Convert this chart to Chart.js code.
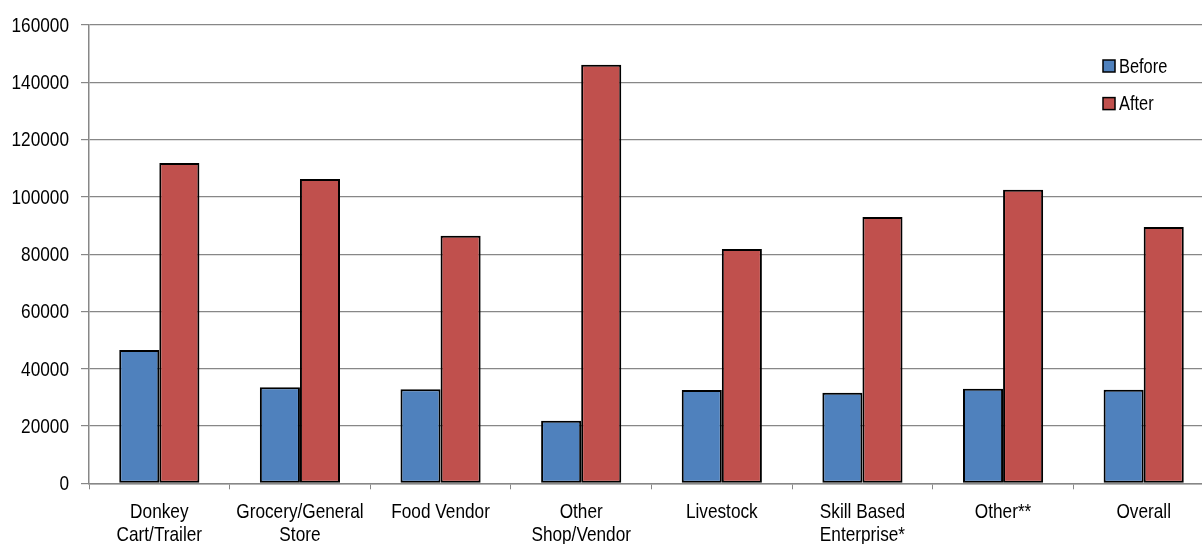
<!DOCTYPE html>
<html>
<head>
<meta charset="utf-8">
<script src="https://cdn.jsdelivr.net/npm/chart.js@4/dist/chart.umd.min.js"></script>
<style>
  html, body { margin: 0; padding: 0; background: #fff; overflow: hidden; }
  #wrap { position: relative; width: 1216px; height: 544px; }
</style>
</head>
<body>
<div id="wrap"><canvas id="c" width="1216" height="544"></canvas></div>
<script>
const categories = [
  ['Donkey', 'Cart/Trailer'],
  ['Grocery/General', 'Store'],
  'Food Vendor',
  ['Other', 'Shop/Vendor'],
  'Livestock',
  ['Skill Based', 'Enterprise*'],
  'Other**',
  'Overall'
];
const seriesNames = ['Before', 'After'];
const beforeValues = [46500, 33500, 32800, 21800, 32600, 31600, 33000, 32700];
const afterValues = [111800, 106200, 86400, 146100, 81800, 93000, 102500, 89500];
const yTicks = [0, 20000, 40000, 60000, 80000, 100000, 120000, 140000, 160000];

const FONT = "'Liberation Sans', Arial, sans-serif";
const NARROW = 0.82;
const GRID = '#878787';

function narrowText(ctx, text, x, y, align) {
  ctx.save();
  ctx.scale(NARROW, 1);
  ctx.textAlign = align;
  ctx.fillText(text, x / NARROW, y);
  ctx.restore();
}

const labelPlugin = {
  id: 'narrowLabels',
  afterDraw(chart) {
    const ctx = chart.ctx;
    const xs = chart.scales.x, ys = chart.scales.y;
    ctx.save();
    ctx.fillStyle = '#000';
    ctx.textBaseline = 'middle';
    ctx.font = '21px ' + FONT;
    ys.ticks.forEach(t => {
      narrowText(ctx, String(t.value), ys.right - 20, ys.getPixelForValue(t.value) + 1, 'right');
    });
    chart.data.labels.forEach((lab, i) => {
      const lines = Array.isArray(lab) ? lab : [lab];
      const cx = xs.getPixelForTick(i);
      lines.forEach((ln, j) => {
        narrowText(ctx, ln, cx, xs.top + 29 + j * 23.3, 'center');
      });
    });
    // legend
    const x = 1103, y0 = 66, gap = 37.6, box = 12;
    chart.data.datasets.forEach((ds, i) => {
      const cy = y0 + i * gap;
      ctx.fillStyle = ds.backgroundColor;
      ctx.fillRect(x, cy - box / 2, box, box);
      ctx.lineWidth = 1.5;
      ctx.strokeStyle = '#000';
      ctx.strokeRect(x, cy - box / 2, box, box);
      ctx.fillStyle = '#000';
      ctx.font = '20px ' + FONT;
      narrowText(ctx, ds.label, x + box + 4, cy + 1, 'left');
    });
    ctx.restore();
  }
};

new Chart(document.getElementById('c'), {
  type: 'bar',
  data: {
    labels: categories,
    datasets: [
      { label: seriesNames[0], data: beforeValues, backgroundColor: '#4F81BD', borderColor: '#000', borderWidth: 2, borderSkipped: false },
      { label: seriesNames[1], data: afterValues, backgroundColor: '#C0504D', borderColor: '#000', borderWidth: 2, borderSkipped: false }
    ]
  },
  options: {
    responsive: false,
    animation: false,
    devicePixelRatio: 1,
    layout: { padding: { top: 25, right: 2, left: 0, bottom: 0 } },
    datasets: { bar: { categoryPercentage: 0.57, barPercentage: 1.0 } },
    plugins: { legend: { display: false }, tooltip: { enabled: false } },
    scales: {
      x: {
        grid: { display: true, drawOnChartArea: false, drawTicks: true, tickLength: 6, color: GRID, lineWidth: 1, offset: true },
        border: { display: true, color: GRID, width: 1.5 },
        ticks: { display: false, autoSkip: false },
        afterFit(scale) { scale.height = 60.7; }
      },
      y: {
        min: 0, max: 160000,
        afterBuildTicks(scale) { scale.ticks = yTicks.map(v => ({ value: v })); },
        grid: { color: GRID, lineWidth: 1.2, drawTicks: true, tickLength: 8 },
        border: { display: true, color: GRID, width: 1.5 },
        ticks: { display: false },
        afterFit(scale) { scale.width = 89; }
      }
    }
  },
  plugins: [labelPlugin]
});
</script>
</body>
</html>
